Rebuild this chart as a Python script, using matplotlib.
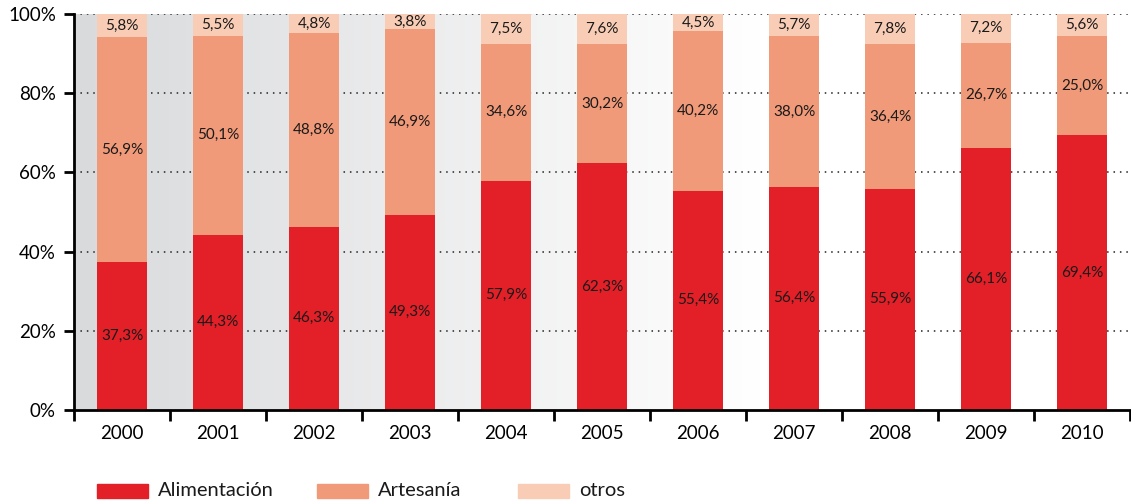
import numpy as np
import matplotlib
matplotlib.use("Agg")
import matplotlib.pyplot as plt
from matplotlib.patches import Rectangle
from matplotlib.colors import LinearSegmentedColormap

plt.rcParams['font.family'] = ['Lato', 'DejaVu Sans']

years = ["2000", "2001", "2002", "2003", "2004", "2005", "2006", "2007", "2008", "2009", "2010"]
alimentacion = [37.3, 44.3, 46.3, 49.3, 57.9, 62.3, 55.4, 56.4, 55.9, 66.1, 69.4]
artesania = [56.9, 50.1, 48.8, 46.9, 34.6, 30.2, 40.2, 38.0, 36.4, 26.7, 25.0]
otros = [5.8, 5.5, 4.8, 3.8, 7.5, 7.6, 4.5, 5.7, 7.8, 7.2, 5.6]
series_names = ["Alimentación", "Artesanía", "otros"]
colors = ["#e31f28", "#f19a79", "#f9cdb5"]

fig = plt.figure(figsize=(11.31, 5.04), dpi=100)
ax = fig.add_axes([74 / 1131, 1 - 410 / 504, (1130 - 74) / 1131, (410 - 14) / 504])

x = np.arange(len(years))
ax.set_xlim(-0.5, len(years) - 0.5)
ax.set_ylim(0, 100)

# horizontal grey-to-white gradient behind the plot
cmap = LinearSegmentedColormap.from_list("bg", [(0, "#d9dadc"), (0.65, "#ffffff"), (1, "#ffffff")])
grad = np.linspace(0, 1, 512).reshape(1, -1)
ax.imshow(grad, extent=[-0.5, len(years) - 0.5, 0, 100], aspect="auto", cmap=cmap, zorder=0)

for yv in [20, 40, 60, 80, 100]:
    ax.axhline(yv, color="#222222", linestyle=(0, (1, 3.2)), linewidth=1.1, zorder=1)

width = 0.53
bottom = np.zeros(len(years))
for vals, col in zip([alimentacion, artesania, otros], colors):
    vals = np.array(vals)
    ax.bar(x, vals, width, bottom=bottom, color=col, zorder=2)
    for xi, b, v in zip(x, bottom, vals):
        ax.text(xi, b + v / 2, f"{v:.1f}%".replace(".", ","), ha="center", va="center",
                fontsize=11, color="#1a1a1a", zorder=3)
    bottom += vals

ax.set_yticks([0, 20, 40, 60, 80, 100])
ax.set_yticklabels(["0%", "20%", "40%", "60%", "80%", "100%"], fontsize=13.5)
ax.set_xticks(x)
ax.set_xticklabels(years, fontsize=13.5)
ax.tick_params(axis="x", length=0, pad=11)
ax.set_xticks(np.arange(-0.5, len(years)), minor=True)
ax.tick_params(axis="x", which="minor", length=8, width=2, direction="out")
ax.tick_params(axis="y", length=7, width=2, direction="out", pad=6)

for side in ["top", "right"]:
    ax.spines[side].set_visible(False)
for side in ["left", "bottom"]:
    ax.spines[side].set_linewidth(2)
    ax.spines[side].set_zorder(5)

# legend row beneath the axis
legend_x = [97, 317, 518]
for name, col, px in zip(series_names, colors, legend_x):
    fig.patches.append(Rectangle((px / 1131, 1 - 498 / 504), 51 / 1131, 14 / 504,
                                 transform=fig.transFigure, color=col, figure=fig))
    fig.text((px + 61) / 1131, 1 - 491 / 504, name, fontsize=14.5, va="center", ha="left", color="#1a1a1a")

fig.savefig("out.png", dpi=100)
